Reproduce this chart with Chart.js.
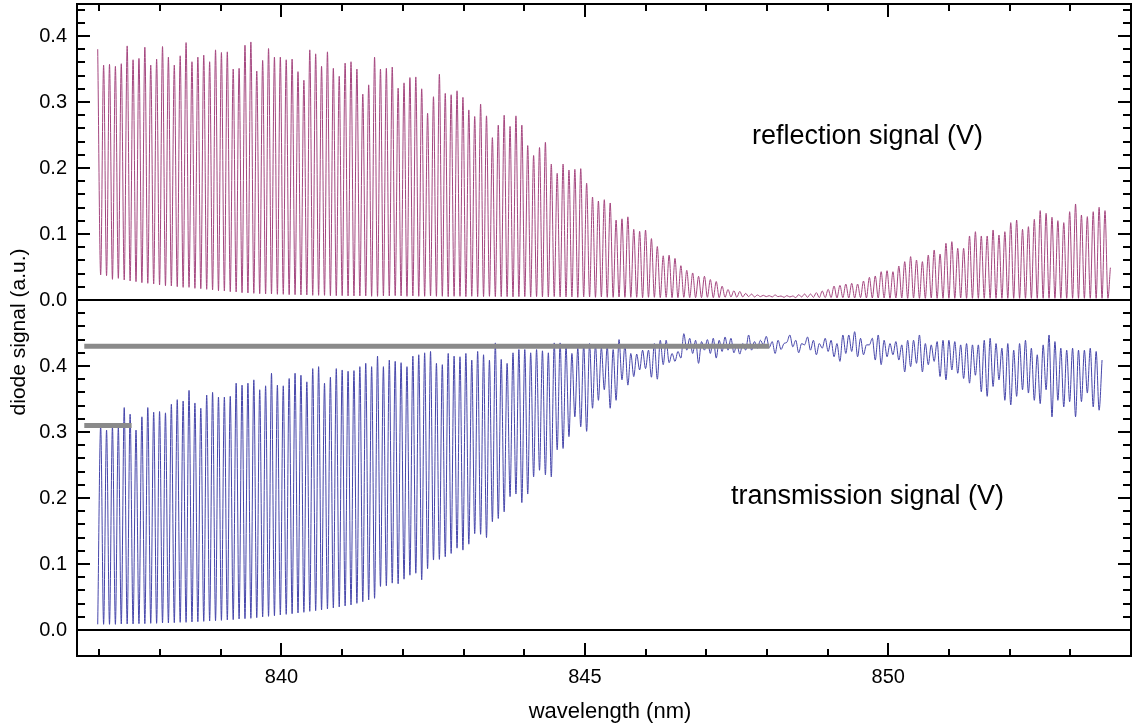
<!DOCTYPE html>
<html>
<head>
<meta charset="utf-8">
<script src="https://cdn.jsdelivr.net/npm/chart.js@4"></script>
<style>
  body { margin: 0; background: #fff; }
  canvas { display: block; }
</style>
</head>
<body>
<canvas id="chart" width="1138" height="726"></canvas>
<script>
// fringe grid: first reflection dip / transmission peak and last one (nm)
const fringeFirst = 837.02;
const fringeLast = 853.62;
const lambdaEnd = 853.66;

// reflection signal: maximum before each dip, then the dip itself (V)
const reflPeaks = [
  // 837 - 841.5
  0.380, 0.356, 0.357, 0.354, 0.358, 0.385, 0.364, 0.366, 0.383, 0.356,
  0.365, 0.384, 0.368, 0.356, 0.370, 0.390, 0.361, 0.368, 0.371, 0.361,
  0.379, 0.375, 0.376, 0.350, 0.351, 0.386, 0.391, 0.347, 0.363, 0.381,
  0.368, 0.368, 0.364, 0.365, 0.346, 0.333, 0.379, 0.373, 0.354, 0.376,
  0.351, 0.339, 0.359, 0.361, 0.350, 0.312, 0.326, 0.368,
  // 841.6 - 847.8
  0.350, 0.351, 0.353, 0.321, 0.329, 0.337, 0.338, 0.320, 0.283, 0.308,
  0.342, 0.313, 0.311, 0.317, 0.307, 0.288, 0.278, 0.297, 0.279, 0.246,
  0.265, 0.280, 0.263, 0.279, 0.265, 0.234, 0.219, 0.231, 0.239, 0.206,
  0.192, 0.206, 0.197, 0.198, 0.199, 0.177, 0.156, 0.150, 0.152, 0.147,
  0.121, 0.123, 0.126, 0.107, 0.104, 0.106, 0.093, 0.081, 0.067, 0.068,
  0.063, 0.052, 0.045, 0.041, 0.036, 0.036, 0.031, 0.028, 0.021, 0.016,
  0.014, 0.013, 0.010, 0.009, 0.0076,
  // 847.9 - 853.6
  0.0071, 0.0066, 0.0076, 0.0061, 0.0066, 0.0061, 0.0081, 0.0091, 0.0091, 0.0111,
  0.0136, 0.0162, 0.0212, 0.0222, 0.0242, 0.0253, 0.0242, 0.0288, 0.0343, 0.0364,
  0.0429, 0.0444, 0.0429, 0.0515, 0.0581, 0.0657, 0.0606, 0.0581, 0.0682, 0.0758,
  0.0697, 0.0859, 0.0884, 0.0783, 0.0783, 0.0970, 0.1035, 0.0970, 0.0970, 0.1061,
  0.0985, 0.1035, 0.1172, 0.1212, 0.1071, 0.1111, 0.1222, 0.1354, 0.1313, 0.1253,
  0.1202, 0.1172, 0.1338, 0.1455, 0.1288, 0.1263, 0.1338, 0.1404, 0.1354
];
const reflDips = [
  0.0379, 0.0369, 0.0313, 0.0328, 0.0303, 0.0288, 0.0278, 0.0263, 0.0253, 0.0242,
  0.0227, 0.0217, 0.0212, 0.0202, 0.0192, 0.0192, 0.0177, 0.0172, 0.0162, 0.0152,
  0.0141, 0.0136, 0.0126, 0.0121, 0.0111, 0.0106, 0.0101, 0.0096, 0.0091, 0.0091,
  0.0086, 0.0086, 0.0081, 0.0081, 0.0076, 0.0076, 0.0071, 0.0071, 0.0071, 0.0066,
  0.0066, 0.0066, 0.0061, 0.0061, 0.0061, 0.0061, 0.0056, 0.0056,
  0.0061, 0.0061, 0.0066, 0.0061, 0.0056, 0.0061, 0.0056, 0.0056, 0.0061, 0.0056,
  0.0056, 0.0051, 0.0056, 0.0056, 0.0051, 0.0056, 0.0051, 0.0051, 0.0056, 0.0051,
  0.0051, 0.0051, 0.0046, 0.0051, 0.0051, 0.0046, 0.0051, 0.0046, 0.0046, 0.0051,
  0.0046, 0.0046, 0.0046, 0.0041, 0.0046, 0.0046, 0.0041, 0.0046, 0.0041, 0.0041,
  0.0046, 0.0041, 0.0041, 0.0041, 0.0036, 0.0041, 0.0041, 0.0036, 0.0041, 0.0036,
  0.0036, 0.0041, 0.0036, 0.0036, 0.0036, 0.0041, 0.0036, 0.0036, 0.0041, 0.0046,
  0.0041, 0.0046, 0.0051, 0.0046, 0.0051,
  0.0051, 0.0046, 0.0051, 0.0041, 0.0046, 0.0036, 0.0046, 0.0041, 0.0041, 0.0036,
  0.0036, 0.0036, 0.0031, 0.0036, 0.0031, 0.0031, 0.0036, 0.0031, 0.0031, 0.0031,
  0.0031, 0.0026, 0.0031, 0.0031, 0.0026, 0.0031, 0.0026, 0.0026, 0.0031, 0.0026,
  0.0026, 0.0026, 0.0026, 0.0031, 0.0026, 0.0026, 0.0026, 0.0026, 0.0026, 0.0026,
  0.0026, 0.0026, 0.0026, 0.0026, 0.0026, 0.0026, 0.0026, 0.0026, 0.0026, 0.0026,
  0.0026, 0.0026, 0.0026, 0.0026, 0.0026, 0.0026, 0.0026, 0.0026, 0.0026
];
const reflEnd = 0.049;

// transmission signal: minimum before each peak, then the peak (V)
const transTroughs = [
  0.0086, 0.0086, 0.0086, 0.0086, 0.0091, 0.0091, 0.0091, 0.0096, 0.0096, 0.0101,
  0.0101, 0.0106, 0.0106, 0.0111, 0.0116, 0.0116, 0.0121, 0.0126, 0.0131, 0.0136,
  0.0141, 0.0146, 0.0152, 0.0157, 0.0167, 0.0172, 0.0177, 0.0187, 0.0197, 0.0207,
  0.0217, 0.0227, 0.0237, 0.0247, 0.0258, 0.0268, 0.0283, 0.0293, 0.0303, 0.0318,
  0.0333, 0.0348, 0.0364, 0.0379, 0.0404, 0.0429, 0.0455, 0.0480,
  0.066, 0.067, 0.071, 0.070, 0.077, 0.083, 0.086, 0.076, 0.093,
  0.106, 0.107, 0.111, 0.116, 0.124, 0.121, 0.130, 0.146, 0.145, 0.140,
  0.164, 0.169, 0.179, 0.202, 0.206, 0.193, 0.206, 0.232, 0.242, 0.235,
  0.232, 0.273, 0.275, 0.293, 0.323, 0.308, 0.301, 0.336, 0.348, 0.364,
  0.336, 0.348, 0.379, 0.371, 0.384, 0.394, 0.396, 0.383, 0.380, 0.402,
  0.405, 0.407, 0.412, 0.424, 0.419, 0.404, 0.424, 0.419, 0.412, 0.422,
  0.424, 0.420, 0.418, 0.424,
  0.424, 0.427, 0.432, 0.428, 0.419, 0.425, 0.436, 0.429, 0.420, 0.432,
  0.424, 0.417, 0.427, 0.422, 0.414, 0.407, 0.419, 0.422, 0.414, 0.417,
  0.432, 0.409, 0.402, 0.414, 0.417, 0.409, 0.391, 0.399, 0.404, 0.391,
  0.402, 0.407, 0.384, 0.379, 0.394, 0.389, 0.381, 0.374, 0.386, 0.361,
  0.354, 0.369, 0.379, 0.348, 0.341, 0.354, 0.364, 0.359, 0.348, 0.343,
  0.364, 0.323, 0.348, 0.338, 0.346, 0.323, 0.346, 0.359, 0.338, 0.333
];
const transPeaks = [
  0.309, 0.303, 0.308, 0.307, 0.337, 0.327, 0.303, 0.323, 0.337, 0.330,
  0.331, 0.329, 0.342, 0.349, 0.347, 0.363, 0.344, 0.336, 0.356, 0.360,
  0.353, 0.353, 0.354, 0.374, 0.371, 0.374, 0.379, 0.364, 0.370, 0.389,
  0.371, 0.370, 0.381, 0.389, 0.386, 0.376, 0.396, 0.399, 0.374, 0.383,
  0.396, 0.394, 0.392, 0.393, 0.399, 0.404, 0.399, 0.415,
  0.399, 0.409, 0.407, 0.405, 0.399, 0.415, 0.417, 0.420, 0.422, 0.404,
  0.402, 0.419, 0.415, 0.414, 0.419, 0.409, 0.422, 0.417, 0.409, 0.435,
  0.410, 0.404, 0.420, 0.425, 0.425, 0.420, 0.425, 0.423, 0.420, 0.435,
  0.435, 0.430, 0.419, 0.427, 0.433, 0.434, 0.432, 0.428, 0.430, 0.425,
  0.440, 0.432, 0.419, 0.418, 0.424, 0.424, 0.434, 0.439, 0.439, 0.419,
  0.422, 0.449, 0.442, 0.439, 0.437, 0.440, 0.442, 0.439, 0.444, 0.442,
  0.433, 0.434, 0.447,
  0.437, 0.439, 0.445, 0.437, 0.439, 0.434, 0.447, 0.439, 0.434, 0.444,
  0.439, 0.434, 0.442, 0.439, 0.434, 0.447, 0.447, 0.452, 0.442, 0.432,
  0.442, 0.447, 0.439, 0.434, 0.437, 0.432, 0.439, 0.439, 0.447, 0.434,
  0.432, 0.437, 0.439, 0.439, 0.437, 0.432, 0.434, 0.432, 0.432, 0.439,
  0.442, 0.434, 0.427, 0.434, 0.424, 0.434, 0.439, 0.427, 0.417, 0.432,
  0.447, 0.437, 0.427, 0.424, 0.427, 0.424, 0.424, 0.427, 0.422, 0.409
];
const transEnd = 0.381;

// grey reference bars on the transmission panel
const markerLevels = [0.43, 0.31];
const markerFrom = [836.75, 836.75];
const markerTo = [848.04, 837.53];

const xTickLabels = [840, 845, 850];
const yTickLabels = [0, 0.1, 0.2, 0.3, 0.4];

// build points on the fringe grid
const fringeStep = (fringeLast - fringeFirst) / (reflPeaks.length - 1);
const reflPoints = [];
const transPoints = [];
reflPeaks.forEach((p, i) => {
  const w = fringeFirst + i * fringeStep;
  reflPoints.push({ x: w - fringeStep / 2, y: p });
  reflPoints.push({ x: w, y: reflDips[i] });
  transPoints.push({ x: w - fringeStep / 2, y: transTroughs[i] });
  transPoints.push({ x: w, y: transPeaks[i] });
});
reflPoints.push({ x: lambdaEnd, y: reflEnd });
transPoints.push({ x: lambdaEnd, y: transEnd });

const markerSets = markerLevels.map((lv, i) => ({
  data: [{ x: markerFrom[i], y: lv }, { x: markerTo[i], y: lv }],
  yAxisID: "yT",
  borderColor: "#8a8a8a",
  borderWidth: 5,
  borderCapStyle: "butt",
  pointRadius: 0,
}));

const FONT = "'Liberation Sans', Arial, sans-serif";

// y panels share the same tick look
function panelAxis(weight, min, max) {
  return {
    type: "linear",
    position: "left",
    stack: "panels",
    stackWeight: weight,
    min: min,
    max: max,
    grid: { display: false, drawTicks: false },
    border: { display: false },
    afterBuildTicks: (s) => { s.ticks = yTickLabels.map((v) => ({ value: v })); },
    afterFit: (s) => { s.width = 77; s.paddingTop = 0; s.paddingBottom = 0; },
    ticks: {
      autoSkip: false,
      padding: 10,
      color: "#000",
      font: { family: FONT, size: 20 },
      callback: (v) => v.toFixed(1),
    },
  };
}

// frame, inward ticks, zero lines and texts
const framePlugin = {
  id: "frame",
  afterDraw(chart) {
    const { ctx, chartArea: a, scales } = chart;
    ctx.save();
    ctx.strokeStyle = "#000";
    ctx.lineWidth = 2;
    const line = (x1, y1, x2, y2) => {
      ctx.beginPath();
      ctx.moveTo(x1, y1);
      ctx.lineTo(x2, y2);
      ctx.stroke();
    };
    [scales.yR, scales.yT].forEach((s) => {
      const y = Math.round(s.getPixelForValue(0));
      line(a.left, y, a.right, y);
    });
    ctx.strokeRect(a.left, a.top, a.right - a.left, a.bottom - a.top);

    [[scales.yR, 22], [scales.yT, 24]].forEach(([s, n]) => {
      for (let k = 0; k <= n; k++) {
        const y = Math.round(s.getPixelForValue(k * 0.02));
        const len = k % 5 === 0 ? 13 : 8;
        line(a.left, y, a.left + len, y);
        line(a.right, y, a.right - len, y);
      }
    });
    for (let w = 837; w <= 853; w++) {
      const x = Math.round(scales.x.getPixelForValue(w));
      const len = w % 5 === 0 ? 13 : 7;
      line(x, a.bottom, x, a.bottom - len);
      line(x, a.top, x, a.top + len);
    }

    ctx.fillStyle = "#000";
    ctx.textBaseline = "alphabetic";
    ctx.font = "27px " + FONT;
    ctx.textAlign = "left";
    ctx.fillText("reflection signal (V)", 752, 144);
    ctx.fillText("transmission signal (V)", 731, 504);

    ctx.font = "22px " + FONT;
    ctx.textAlign = "center";
    ctx.fillText("wavelength (nm)", 610, 718);

    ctx.font = "21px " + FONT;
    ctx.translate(25, 332);
    ctx.rotate(-Math.PI / 2);
    ctx.fillText("diode signal (a.u.)", 0, 0);
    ctx.restore();
  },
};

new Chart(document.getElementById("chart"), {
  type: "line",
  data: {
    datasets: [
      ...markerSets,
      {
        label: "reflection",
        data: reflPoints,
        yAxisID: "yR",
        borderColor: "#a4467f",
        borderWidth: 1,
        pointRadius: 0,
        cubicInterpolationMode: "monotone",
      },
      {
        label: "transmission",
        data: transPoints,
        yAxisID: "yT",
        borderColor: "#4545aa",
        borderWidth: 1,
        pointRadius: 0,
        cubicInterpolationMode: "monotone",
      },
    ],
  },
  options: {
    responsive: false,
    animation: false,
    devicePixelRatio: 1,
    layout: { padding: { top: 4, right: 7, left: 0, bottom: 0 } },
    plugins: { legend: { display: false }, tooltip: { enabled: false } },
    scales: {
      x: {
        type: "linear",
        min: 836.63,
        max: 854.0,
        grid: { display: false, drawTicks: false },
        border: { display: false },
        afterBuildTicks: (s) => { s.ticks = xTickLabels.map((v) => ({ value: v })); },
        afterFit: (s) => { s.height = 70; s.paddingLeft = 0; s.paddingRight = 0; },
        ticks: {
          autoSkip: false,
          maxRotation: 0,
          padding: 9,
          color: "#000",
          font: { family: FONT, size: 20 },
          callback: (v) => String(v),
        },
      },
      yT: panelAxis(356, -0.0394, 0.5),
      yR: panelAxis(296, 0, 0.4485),
    },
  },
  plugins: [framePlugin],
});
</script>
</body>
</html>
